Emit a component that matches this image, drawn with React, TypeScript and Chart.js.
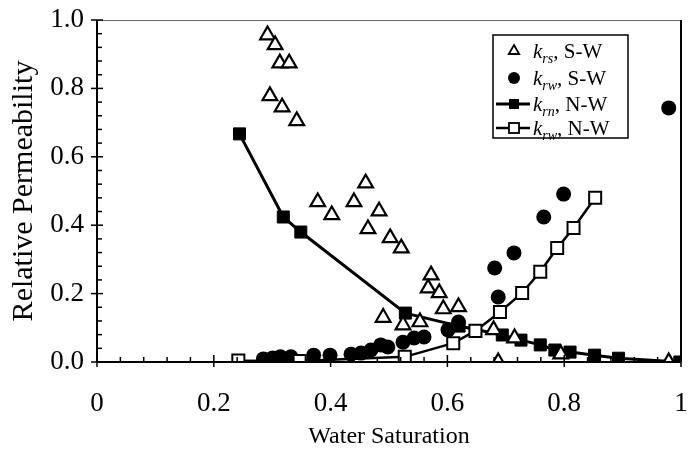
import React, { useEffect, useRef } from 'react';
import { Chart, registerables } from 'chart.js';

Chart.register(...registerables);

// ---- Data ----
// k_rs, S-W (open triangles)
const krsSWx = [0.292, 0.305, 0.313, 0.329, 0.296, 0.317, 0.342, 0.378, 0.402, 0.44, 0.46, 0.483, 0.464, 0.502, 0.521, 0.572, 0.567, 0.586, 0.593, 0.619, 0.49, 0.524, 0.553, 0.679, 0.715, 0.687, 0.794, 0.979];
const krsSWy = [0.956, 0.927, 0.874, 0.874, 0.778, 0.745, 0.705, 0.468, 0.43, 0.468, 0.523, 0.441, 0.389, 0.363, 0.333, 0.254, 0.216, 0.202, 0.155, 0.161, 0.13, 0.108, 0.117, 0.094, 0.07, 0.0, 0.023, 0.0];

// k_rw, S-W (filled circles)
const krwSWx = [0.285, 0.301, 0.314, 0.332, 0.371, 0.399, 0.435, 0.452, 0.469, 0.486, 0.498, 0.524, 0.543, 0.56, 0.601, 0.619, 0.687, 0.681, 0.714, 0.765, 0.799, 0.979];
const krwSWy = [0.009, 0.012, 0.015, 0.015, 0.02, 0.02, 0.023, 0.026, 0.035, 0.05, 0.044, 0.058, 0.07, 0.073, 0.094, 0.117, 0.19, 0.275, 0.319, 0.424, 0.491, 0.743];

// k_rn, N-W (filled squares + line)
const krnNWx = [0.244, 0.319, 0.349, 0.528, 0.62, 0.694, 0.726, 0.759, 0.784, 0.81, 0.852, 0.893, 0.998];
const krnNWy = [0.667, 0.424, 0.38, 0.143, 0.105, 0.079, 0.064, 0.05, 0.035, 0.029, 0.02, 0.011, 0.0];

// k_rw, N-W (open squares + line)
const krwNWx = [0.242, 0.347, 0.527, 0.61, 0.648, 0.69, 0.728, 0.759, 0.788, 0.816, 0.853];
const krwNWy = [0.004, 0.003, 0.015, 0.055, 0.091, 0.146, 0.202, 0.264, 0.333, 0.392, 0.48];

const xTickLabels = ['0', '0.2', '0.4', '0.6', '0.8', '1'];
const yTickLabels = ['0.0', '0.2', '0.4', '0.6', '0.8', '1.0'];

const legendSeries = [
  { sub: 'rs', tail: 'S-W', kind: 'triangle' },
  { sub: 'rw', tail: 'S-W', kind: 'circle' },
  { sub: 'rn', tail: 'N-W', kind: 'filledSquareLine' },
  { sub: 'rw', tail: 'N-W', kind: 'openSquareLine' },
];

const SERIF = '"Liberation Serif", "Times New Roman", serif';

const toPts = (xs: number[], ys: number[]) => xs.map((x, i) => ({ x, y: ys[i] }));

const isMajor = (v: number) => Math.abs(v * 5 - Math.round(v * 5)) < 1e-6;

const framePlugin = {
  id: 'frameTicks',
  afterDraw(chart: any) {
    const ctx = chart.ctx as CanvasRenderingContext2D;
    const ca = chart.chartArea;
    const left = Math.round(ca.left);
    const right = Math.round(ca.right);
    const top = Math.round(ca.top);
    const bottom = Math.round(ca.bottom);
    const xs = chart.scales.x;
    const ys = chart.scales.y;
    ctx.save();
    ctx.lineCap = 'butt';
    // top frame (faint) & right frame
    ctx.lineWidth = 1;
    ctx.strokeStyle = '#666';
    ctx.beginPath();
    ctx.moveTo(left, top + 0.5);
    ctx.lineTo(right, top + 0.5);
    ctx.stroke();
    ctx.strokeStyle = '#000';
    ctx.lineWidth = 2;
    ctx.beginPath();
    ctx.moveTo(right, top);
    ctx.lineTo(right, bottom);
    ctx.stroke();
    // axes
    ctx.beginPath();
    ctx.moveTo(left, top);
    ctx.lineTo(left, bottom);
    ctx.lineTo(right, bottom);
    ctx.stroke();
    // tick marks
    ctx.lineWidth = 1.5;
    xs.ticks.forEach((t: any) => {
      const px = xs.getPixelForValue(t.value);
      const major = isMajor(t.value);
      ctx.beginPath();
      ctx.moveTo(px, bottom + (major ? 5 : 0));
      ctx.lineTo(px, bottom - (major ? 7 : 5));
      ctx.stroke();
    });
    ys.ticks.forEach((t: any) => {
      const py = ys.getPixelForValue(t.value);
      const major = isMajor(t.value);
      ctx.beginPath();
      ctx.moveTo(left - (major ? 6 : 0), py);
      ctx.lineTo(left + (major ? 6 : 5), py);
      ctx.stroke();
    });
    ctx.restore();
  },
};

const legendPlugin = {
  id: 'customLegend',
  afterDatasetsDraw(chart: any) {
    const { ctx } = chart;
    const bx = 493, by = 35, bw = 135, bh = 103;
    ctx.save();
    ctx.fillStyle = '#fff';
    ctx.fillRect(bx, by, bw, bh);
    ctx.strokeStyle = '#000';
    ctx.lineWidth = 1.5;
    ctx.strokeRect(bx, by, bw, bh);
    const rows = [51, 78, 104, 128];
    legendSeries.forEach((s, i) => {
      const cy = rows[i];
      const mx = 514;
      ctx.strokeStyle = '#000';
      ctx.fillStyle = '#000';
      if (s.kind === 'triangle') {
        const r = 6;
        ctx.lineWidth = 1.8;
        ctx.beginPath();
        ctx.moveTo(mx, cy - r);
        ctx.lineTo(mx + r * 0.866, cy + r * 0.5);
        ctx.lineTo(mx - r * 0.866, cy + r * 0.5);
        ctx.closePath();
        ctx.fillStyle = '#fff';
        ctx.fill();
        ctx.stroke();
      } else if (s.kind === 'circle') {
        ctx.beginPath();
        ctx.arc(mx, cy, 6, 0, Math.PI * 2);
        ctx.fill();
      } else {
        ctx.lineWidth = s.kind === 'filledSquareLine' ? 3 : 2.5;
        ctx.beginPath();
        ctx.moveTo(496, cy);
        ctx.lineTo(530, cy);
        ctx.stroke();
        const h = 5;
        if (s.kind === 'filledSquareLine') {
          ctx.fillRect(mx - h, cy - h, 2 * h, 2 * h);
        } else {
          ctx.fillStyle = '#fff';
          ctx.fillRect(mx - h, cy - h, 2 * h, 2 * h);
          ctx.lineWidth = 1.8;
          ctx.strokeRect(mx - h, cy - h, 2 * h, 2 * h);
        }
      }
      // text
      ctx.fillStyle = '#000';
      ctx.textBaseline = 'alphabetic';
      ctx.textAlign = 'left';
      let tx = 533;
      const base = cy + 7;
      ctx.font = `italic 21px ${SERIF}`;
      ctx.fillText('k', tx, base);
      tx += ctx.measureText('k').width;
      ctx.font = `italic 14px ${SERIF}`;
      ctx.fillText(s.sub, tx, base + 5);
      tx += ctx.measureText(s.sub).width;
      ctx.font = `21px ${SERIF}`;
      ctx.fillText(',', tx, base);
      tx += ctx.measureText(', ').width;
      ctx.fillText(s.tail, tx, base);
    });
    ctx.restore();
  },
};

export default function App() {
  const canvasRef = useRef<HTMLCanvasElement | null>(null);

  useEffect(() => {
    document.body.style.margin = '0';
    const canvas = canvasRef.current;
    if (!canvas) return;
    const chart = new Chart(canvas, {
      type: 'scatter',
      data: {
        datasets: [
          {
            label: 'krw N-W',
            data: toPts(krwNWx, krwNWy),
            showLine: true,
            borderColor: '#000',
            borderWidth: 2.5,
            pointStyle: 'rect',
            pointRadius: 8.5,
            pointBackgroundColor: '#fff',
            pointBorderColor: '#000',
            pointBorderWidth: 2,
          },
          {
            label: 'krs S-W',
            data: toPts(krsSWx, krsSWy),
            showLine: false,
            pointStyle: 'triangle',
            pointRadius: 8.5,
            pointBackgroundColor: '#fff',
            pointBorderColor: '#000',
            pointBorderWidth: 2.2,
          },
          {
            label: 'krn N-W',
            data: toPts(krnNWx, krnNWy),
            showLine: true,
            borderColor: '#000',
            borderWidth: 3,
            pointStyle: 'rect',
            pointRadius: 8.5,
            pointBackgroundColor: '#000',
            pointBorderColor: '#000',
            pointBorderWidth: 1,
          },
          {
            label: 'krw S-W',
            data: toPts(krwSWx, krwSWy),
            showLine: false,
            pointStyle: 'circle',
            pointRadius: 7.5,
            pointBackgroundColor: '#000',
            pointBorderColor: '#000',
            pointBorderWidth: 0,
          },
        ],
      },
      options: {
        animation: false,
        responsive: false,
        maintainAspectRatio: false,
        layout: { padding: { left: 0, right: 14, top: 20, bottom: 0 } },
        plugins: {
          legend: { display: false },
          tooltip: { enabled: false },
        },
        scales: {
          x: {
            type: 'linear',
            min: 0,
            max: 1,
            grid: { display: false, drawTicks: true, tickLength: 24 },
            border: { display: false },
            ticks: {
              stepSize: 0.04,
              maxTicksLimit: 100,
              autoSkip: false,
              maxRotation: 0,
              padding: 2,
              color: '#000',
              font: { family: SERIF, size: 27 },
              callback: (v: any) => (isMajor(Number(v)) ? xTickLabels[Math.round(Number(v) * 5)] : ''),
            },
            title: {
              display: true,
              text: 'Water Saturation',
              color: '#000',
              font: { family: SERIF, size: 24 },
              padding: { top: 0, bottom: 6 },
            },
            afterFit: (scale: any) => {
              scale.height = 95;
            },
          },
          y: {
            type: 'linear',
            min: 0,
            max: 1,
            grid: { display: false, drawTicks: true, tickLength: 11 },
            border: { display: false },
            ticks: {
              stepSize: 0.04,
              maxTicksLimit: 100,
              autoSkip: false,
              padding: 2,
              color: '#000',
              font: { family: SERIF, size: 27 },
              callback: (v: any) => (isMajor(Number(v)) ? yTickLabels[Math.round(Number(v) * 5)] : ''),
            },
            title: {
              display: true,
              text: 'Relative Permeability',
              color: '#000',
              font: { family: SERIF, size: 30 },
              padding: { top: 6, bottom: 0 },
            },
            afterFit: (scale: any) => {
              scale.width = 97;
            },
          },
        },
      },
      plugins: [legendPlugin, framePlugin],
    } as any);
    return () => chart.destroy();
  }, []);

  return (
    <div style={{ width: 695, height: 457, background: '#fff' }}>
      <canvas ref={canvasRef} width={695} height={457} style={{ display: 'block', width: 695, height: 457 }} />
    </div>
  );
}
